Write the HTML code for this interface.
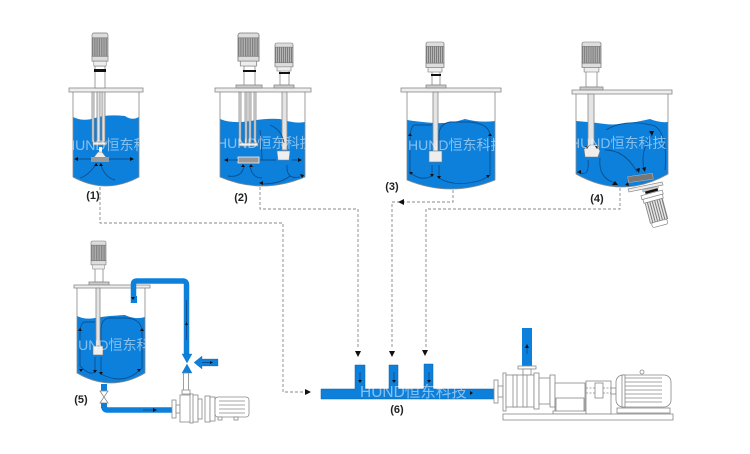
<!DOCTYPE html>
<html><head><meta charset="utf-8"><style>
html,body{margin:0;padding:0;background:#fff}
svg{display:block}
.w{font:14px "Liberation Sans","Noto Sans CJK SC",sans-serif;fill:#fff;fill-opacity:.5}
.l{font:bold 11px "Liberation Sans",sans-serif;fill:#222;text-anchor:middle}
.g{fill:#fff;stroke:#888;stroke-width:.8}
.d{fill:none;stroke:#888;stroke-width:.9;stroke-dasharray:3 2}
.f{fill:none;stroke:#0a4f8f;stroke-width:.9}
.k{fill:#111}
</style></head><body>
<svg width="750" height="454" viewBox="0 0 750 454" xmlns="http://www.w3.org/2000/svg">
<defs>
<pattern id="rib" width="2" height="4" patternUnits="userSpaceOnUse"><rect width="2" height="4" fill="#b5b5b5"/><rect width="1" height="4" fill="#7d7d7d"/></pattern>
<pattern id="rib2" width="2.500" height="4" patternUnits="userSpaceOnUse"><rect width="2.500" height="4" fill="#e8e8e8"/><rect width="1" height="4" fill="#777"/></pattern>
<symbol id="motor" viewBox="0 0 18 34" preserveAspectRatio="none" overflow="visible">
<rect x="0" y="0" width="18" height="6" rx="2" fill="#ddd" stroke="#777" stroke-width=".7"/>
<rect x="0" y="5" width="18" height="19" fill="url(#rib)" stroke="#777" stroke-width=".7"/>
<rect x="0" y="24" width="18" height="5" fill="#ddd" stroke="#777" stroke-width=".7"/>
<rect x="2" y="29" width="14" height="5" fill="#eee" stroke="#888" stroke-width=".7"/>
</symbol>
<clipPath id="c1"><path d="M73 117Q83 122 95 118T125 116Q132 121 139 117V177Q106 195 73 177Z"/></clipPath>
<clipPath id="c2"><path d="M220 119Q232 124 250 121T280 119Q295 124 305 122V177Q262 195 220 177Z"/></clipPath>
<clipPath id="c3"><path d="M407 120Q420 122 435 123T465 119Q480 123 495 121V180Q451 198 407 180Z"/></clipPath>
<clipPath id="c4"><path d="M576 121Q590 122 605 124T650 119Q660 123 668 122V174Q622 200 576 174Z"/></clipPath>
<clipPath id="c5"><path d="M77 316Q85 320 95 318T125 315Q135 320 145 317V373Q111 393 77 373Z"/></clipPath>
</defs>

<!-- dashed connectors -->
<path class="d" d="M100 187V223H283V392H306"/>
<path class="d" d="M260 187V209H358V349"/>
<path class="d" d="M453 190V202H392V349"/>
<path class="d" d="M620 188V209H426V347"/>
<path class="k" d="M305 389l6 3-6 3zM355 351h6l-3 6zM389 351h6l-3 6zM422 350h6l-3 6zM404 199v6l-6-3z"/>

<!-- Tank 1 -->
<path d="M73 117Q83 122 95 118T125 116Q132 121 139 117V177Q106 195 73 177Z" fill="#0d80dc"/>
<path class="g" style="fill:none" d="M73 92V177Q106 195 139 177V92"/>
<rect class="g" x="69" y="88" width="74" height="4" style="fill:#eee"/>
<rect class="g" x="95" y="66" width="10" height="22"/>
<use href="#motor" x="92" y="33" width="16" height="33"/>
<rect x="94" y="69" width="12" height="3" fill="#111"/>
<path class="g" d="M92 92h2v50h-2zM97 92h3v50h-3zM102 92h3v50h-3z" style="fill:#e4e4e4"/>
<rect class="g" x="93" y="142" width="13" height="3" style="fill:#eee"/>
<rect x="99" y="147" width="3" height="10" fill="#fff"/>
<path d="M91 161l7-9h4l7 9z" fill="#eee" stroke="#777" stroke-width=".6"/>
<rect x="91" y="157" width="18" height="5" fill="#999"/>
<path class="f" d="M75 159H91M109 159H132M100 163Q105 178 115 180M97 163Q88 176 80 178"/>
<path class="k" d="M74 159l4-2v4zM134 159l-4-2v4zM96 163l-2 3h4zM101 163l-2 3h4z"/>
<text class="w" x="65" y="150" clip-path="url(#c1)">HUND恒东科技</text>
<text class="l" x="93" y="199">(1)</text>

<!-- Tank 2 -->
<path d="M220 119Q232 124 250 121T280 119Q295 124 305 122V177Q262 195 220 177Z" fill="#0d80dc"/>
<path class="g" style="fill:none" d="M220 92V177Q262 195 305 177V92"/>
<rect class="g" x="215" y="88" width="96" height="4" style="fill:#eee"/>
<rect class="g" x="244" y="66" width="11" height="20"/>
<use href="#motor" x="238" y="33" width="21" height="33"/>
<rect x="243" y="70" width="13" height="2" fill="#111"/>
<rect class="g" x="236" y="85" width="26" height="3" style="fill:#ccc"/>
<rect class="g" x="280" y="70" width="9" height="15"/>
<use href="#motor" x="275" y="43" width="18" height="28"/>
<rect x="279" y="72" width="11" height="2" fill="#111"/>
<rect class="g" x="274" y="85" width="20" height="3" style="fill:#ccc"/>
<path class="g" d="M239 92h2v51h-2zM245 92h2v51h-2zM249 92h2v51h-2zM254 92h2v51h-2zM282 92h5v58h-5z" style="fill:#e4e4e4"/>
<rect class="g" x="239" y="143" width="19" height="3" style="fill:#eee"/>
<rect x="238" y="157" width="21" height="6" fill="#999" stroke="#eee" stroke-width=".8"/>
<path d="M277 151h13l-1 9h-11z" fill="#eee" stroke="#888" stroke-width=".6"/>
<path class="f" d="M225 160H238M260 160H276M292 160H300M244 166Q242 178 228 176M250 166Q252 178 262 178M287 165Q286 180 300 177M262 184Q280 184 290 176M270 125Q282 130 284 143M260 130Q262 155 262 160"/>
<path class="k" d="M224 160l4-2v4zM302 160l-4-2v4zM243 164l-2 3h4zM251 164l-2 3h4zM304 175l-4-1 2 4zM259 183l4-2v4z"/>
<text class="w" x="217" y="148" clip-path="url(#c2)">HUND恒东科技</text>
<text class="l" x="241" y="201">(2)</text>

<!-- Tank 3 -->
<path d="M407 120Q420 122 435 123T465 119Q480 123 495 121V180Q451 198 407 180Z" fill="#0d80dc"/>
<path class="g" style="fill:none" d="M407 92V180Q451 198 495 180V92"/>
<rect class="g" x="401" y="88" width="100" height="4" style="fill:#eee"/>
<rect class="g" x="432" y="70" width="8" height="15"/>
<use href="#motor" x="426" y="42" width="18" height="30"/>
<rect x="431" y="74" width="10" height="2" fill="#111"/>
<rect class="g" x="426" y="85" width="20" height="3" style="fill:#ccc"/>
<rect class="g" x="433" y="92" width="5" height="60" style="fill:#e4e4e4"/>
<rect x="429" y="151" width="13" height="11" fill="#eee" stroke="#777" stroke-width=".6"/>
<path class="f" d="M432 125H414Q410 128 410 140V172Q420 182 432 176V165M439 165V178Q455 188 482 180L490 175V136Q490 124 470 122H450Q439 124 439 135V150"/>
<path class="k" d="M410 133l-2 3h4zM490 133l-2 3h4zM411 175l-2-3h4zM432 177l-2-3h4zM439 179l-2-3h4zM488 178l-2-3h4z"/>
<text class="w" x="408" y="150" clip-path="url(#c3)">HUND恒东科技</text>
<text class="l" x="392" y="190">(3)</text>

<!-- Tank 4 -->
<path d="M576 121Q590 122 605 124T650 119Q660 123 668 122V174Q622 200 576 174Z" fill="#0d80dc"/>
<path class="g" style="fill:none" d="M576 94V174Q622 200 668 174V94"/>
<rect class="g" x="572" y="90" width="100" height="4" style="fill:#eee"/>
<rect class="g" x="586" y="70" width="11" height="17"/>
<use href="#motor" x="582" y="42" width="19" height="30"/>
<rect class="g" x="580" y="87" width="23" height="3" style="fill:#ccc"/>
<rect class="g" x="588" y="94" width="6" height="52" style="fill:#e4e4e4"/>
<path d="M584 149l6-4h7l3 6-2 6h-13z" fill="#eee" stroke="#777" stroke-width=".6"/>
<path class="f" d="M600 158Q598 178 615 183M578 172Q590 178 588 160M606 130Q625 118 655 126Q668 135 665 170M605 150Q625 150 637 172M652 135Q640 150 644 170"/>
<path class="k" d="M577 172l4-2v4zM612 185l3-4 3 4zM625 185l3-3 1 4zM639 173l-3-4 4-1zM645 172l-3-4 4-1zM649 131h5l-2 5zM585 146h4l-2 3zM595 146h4l-2 3z"/>
<g transform="translate(640 178) rotate(-8)">
<rect x="-12" y="-3" width="25" height="6" fill="#777" stroke="#bbb" stroke-width=".5"/>
</g>
<path d="M628 189l34-7 1 3-34 7z" fill="#eee" stroke="#888" stroke-width=".7"/>
<g transform="translate(643 188) rotate(-15)">
<rect x="-1" y="2" width="16" height="2" fill="#ccc" stroke="#888" stroke-width=".4"/>
<rect x="1" y="4" width="13" height="2.500" fill="#111"/>
<rect x="-4" y="7" width="22" height="4" fill="#fff" stroke="#888" stroke-width=".7"/>
<rect x="-3" y="11" width="20" height="4" fill="#fff" stroke="#888" stroke-width=".7"/>
<rect x="-2" y="15" width="18" height="21" fill="url(#rib2)" stroke="#888" stroke-width=".7"/>
<rect x="-1" y="36" width="16" height="5" rx="2" fill="#fff" stroke="#888" stroke-width=".7"/>
</g>
<text class="w" x="570" y="148" clip-path="url(#c4)">HUND恒东科技</text>
<text class="l" x="597" y="202">(4)</text>

<!-- Tank 5 -->
<path d="M77 316Q85 320 95 318T125 315Q135 320 145 317V373Q111 393 77 373Z" fill="#0d80dc"/>
<path class="g" style="fill:none" d="M77 288V373Q111 393 145 373V288"/>
<rect class="g" x="95" y="268" width="8" height="14"/>
<use href="#motor" x="91" y="241" width="15" height="28"/>
<rect class="g" x="89" y="282" width="20" height="3" style="fill:#ccc"/>
<rect class="g" x="74" y="285" width="76" height="3" style="fill:#eee"/>
<rect class="g" x="96" y="288" width="4" height="60" style="fill:#e4e4e4"/>
<rect x="93" y="346" width="10" height="9" fill="#eee" stroke="#777" stroke-width=".6"/>
<path class="f" d="M95 322H84Q80 324 80 335V366Q90 376 95 372V357M101 357V374Q120 384 135 374L142 368V330Q140 318 125 318H108Q101 320 101 330V345"/>
<path class="k" d="M80 328l-2 3h4zM142 328l-2 3h4zM81 372l-2-3h4zM95 373l-2-3h4zM101 375l-2-3h4zM139 372l-2-3h4z"/>
<text class="w" x="68" y="350" clip-path="url(#c5)">HUND恒东科技</text>
<text class="l" x="81" y="403">(5)</text>

<!-- piping 5 -->
<path d="M133.500 303V284Q133.500 281 137 281H183Q186.500 281 186.500 285V354" fill="none" stroke="#0d80dc" stroke-width="5.500"/>
<rect x="131" y="296" width="6" height="7" fill="#0d80dc"/>
<path d="M182 354h10l-5 9zM182 373h10l-5-9zM218 359v7h-16v3l-8-6.500 8-6.500v3z" fill="#0d80dc" stroke="#0b5fa8" stroke-width=".3"/>
<path class="f" d="M186.500 300V340M202 362.500H212"/>
<path class="k" d="M185 325h3l-1.500-3zM133 300l-2-3h4zM210 361v3l3-1.500z"/>
<path d="M101 384h6v7h-6zM101 403h6v5h-6z" fill="#0d80dc"/>
<path class="g" d="M100 391h8l-4 6 4 6h-8l4-6z"/>
<path d="M104 403V407Q104 410 108 410H172" fill="none" stroke="#0d80dc" stroke-width="5.500"/>
<path class="f" d="M143 410H153"/>
<path class="k" d="M153 408v4l4-2z"/>
<path class="g" d="M183.500 373h5v17h-5zM182 390h8v4h-8z"/>
<g fill="#fff" stroke="#888" stroke-width=".8">
<rect x="172" y="400" width="4" height="18"/>
<rect x="176" y="405" width="4" height="8"/>
<rect x="180" y="395" width="18" height="27"/>
<rect x="190" y="394" width="3" height="29"/>
<rect x="198" y="399" width="4" height="20"/>
<rect x="205" y="396" width="5" height="26"/>
<rect x="210" y="397" width="5" height="24"/>
<rect x="215" y="397" width="34" height="20" rx="3"/>
<path d="M219 401H245M219 405H245M219 409H245M219 413H245" />
<rect x="218" y="417" width="4" height="3"/>
<rect x="234" y="417" width="4" height="3"/>
</g>

<!-- manifold 6 -->
<path d="M321 389H355V365H365V389H389V365H398V389H424V364H433V389H494V399H321Z" fill="#0d80dc" stroke="#0a5ea6" stroke-width=".5"/>
<path class="f" d="M360 372V381M394 372V381M429 372V381"/>
<path class="k" d="M358 380h4l-2 3zM392 380h4l-2 3zM427 380h4l-2 3zM470 391v4l3-2z"/>
<text class="w" x="360" y="397" style="font-size:15.500px">HUND恒东科技</text>
<text class="l" x="397" y="413">(6)</text>

<!-- pump 6 -->
<rect x="522" y="328" width="10" height="38" fill="#0d80dc"/>
<path class="f" d="M527 346V354"/>
<path class="k" d="M525 348h4l-2-4z"/>
<g fill="#fff" stroke="#888" stroke-width=".8">
<rect x="518" y="366" width="18" height="3"/>
<rect x="523" y="369" width="8" height="6"/>
<rect x="494" y="380" width="4" height="23"/>
<rect x="498" y="386" width="5" height="11"/>
<rect x="503" y="373" width="3" height="38"/>
<rect x="506" y="375" width="28" height="32"/>
<rect x="513" y="375" width="4" height="32"/>
<rect x="523" y="375" width="4" height="32"/>
<rect x="534" y="373" width="5" height="36"/>
<rect x="539" y="378" width="11" height="26"/>
<rect x="550" y="375" width="5" height="32"/>
<rect x="555" y="383" width="30" height="29"/>
<rect x="556" y="398" width="28" height="14"/>
<rect x="553" y="411" width="34" height="3"/>
<rect x="586" y="381" width="25" height="33"/>
<rect x="595" y="383" width="8" height="15"/>
<path d="M586 388H595M603 388H611M586 393H595M603 393H611" stroke-dasharray="2 1.500"/>
<rect x="611" y="388" width="5" height="6"/>
<rect x="616" y="375" width="55" height="32" rx="7"/>
<rect x="622" y="375" width="3" height="32"/>
<path d="M625 378H662M625 382H662M625 386H662M625 390H662M625 394H662M625 398H662M625 402H662"/>
<circle cx="642" cy="372" r="2"/>
<rect x="617" y="408" width="53" height="5"/>
<rect x="503" y="414" width="170" height="6"/>
</g>
</svg>
</body></html>
